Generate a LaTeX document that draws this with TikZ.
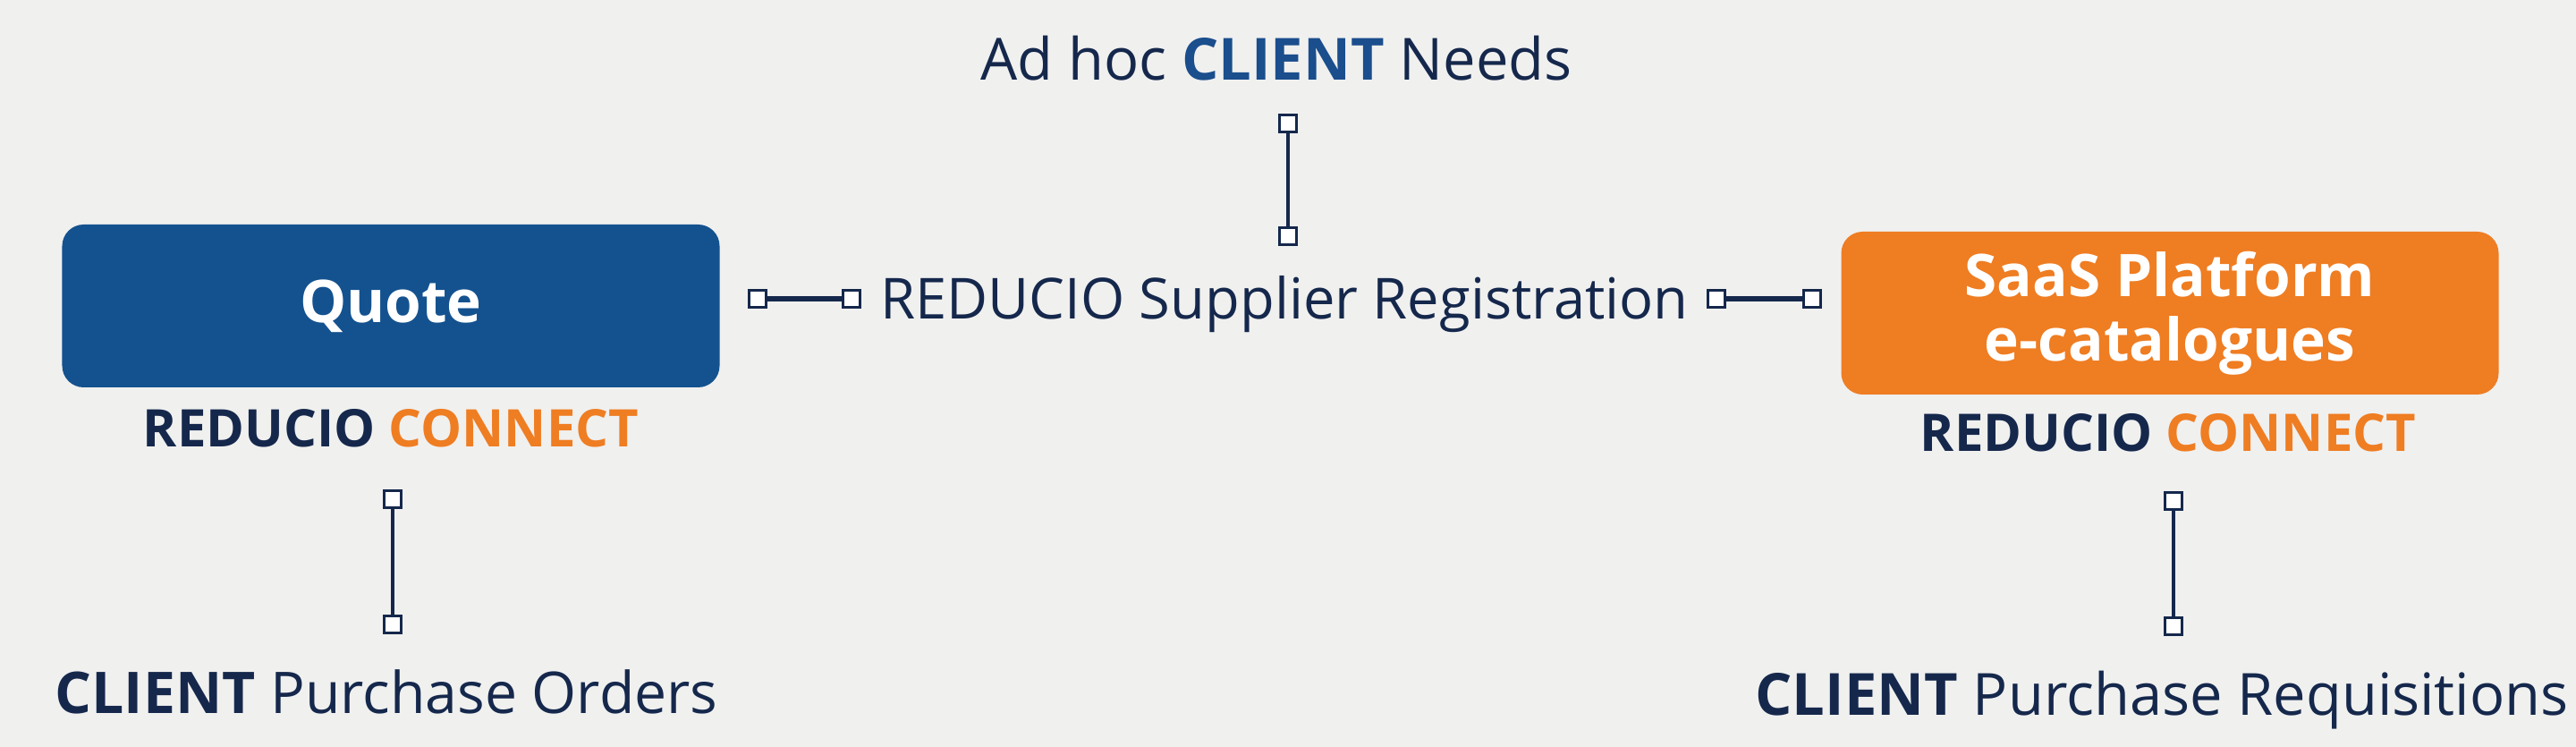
\documentclass[tikz,border=0pt]{standalone}
\usepackage{fontspec}
\setmainfont{Open Sans}
\definecolor{bgGrey}{HTML}{F0F0EF}
\definecolor{navy}{HTML}{15284C}
\definecolor{quoteBlue}{HTML}{14528F}
\definecolor{titleBlue}{HTML}{1A4E8C}
\definecolor{connOrange}{HTML}{EF7D22}
\begin{document}
\begin{tikzpicture}
[boxDecorate/.style={shape=rectangle,rounded corners=0.24cm,minimum width=7.35cm,
   minimum height=1.82cm,text=white,font=\fontsize{18.7}{22}\selectfont\bfseries,align=center},%
  labelDecorate/.style={text=navy,font=\fontsize{18}{22}\selectfont,anchor=base,inner sep=0pt},%
  brandDecorate/.style={font=\fontsize{16.5}{20}\selectfont\bfseries,anchor=base,inner sep=0pt},%
  pinDecorate/.style={shape=rectangle,draw=navy,fill=white,line width=0.6pt,
   minimum size=0.19cm,inner sep=0pt},%
  lineDecorate/.style={-,draw=navy,line width=1pt}]
\fill[bgGrey] (0,0) rectangle (28.8,8.35);
\useasboundingbox (0,0) rectangle (28.8,8.35);
%% boxes
\node (quote) at (4.37,4.93) [boxDecorate,fill=quoteBlue] {Quote};
\node (saas) at (24.26,4.85) [boxDecorate,fill=connOrange]
  {SaaS Platform\\[-0.05cm]e-catalogues};
%% texts
\node (needs) at (14.27,7.45) [labelDecorate,font=\fontsize{18.5}{22}\selectfont]
  {Ad hoc \textbf{\color{titleBlue}CLIENT} Needs};
\node (reg) at (14.36,4.78) [labelDecorate] {REDUCIO Supplier Registration};
\node (brandL) at (4.37,3.35) [brandDecorate] {\color{navy}REDUCIO \color{connOrange}CONNECT};
\node (brandR) at (24.24,3.30) [brandDecorate] {\color{navy}REDUCIO \color{connOrange}CONNECT};
\node (orders) at (4.32,0.37) [labelDecorate,font=\fontsize{18.3}{22}\selectfont]
  {\textbf{CLIENT} Purchase Orders};
\node (reqs) at (24.17,0.35) [labelDecorate,font=\fontsize{18.5}{22}\selectfont]
  {\textbf{CLIENT} Purchase Requisitions};
%% pins
\foreach \nodename/\x/\y in {
  t1/14.40/6.97, t2/14.40/5.71, h1/8.47/5.01, h2/9.52/5.01,
  h3/19.19/5.01, h4/20.26/5.01, l1/4.39/2.77, l2/4.39/1.37,
  r1/24.30/2.75, r2/24.30/1.35}
{
  \node (\nodename) at (\x,\y) [pinDecorate] {};
}
%% lines
\path
\foreach \startnode/\endnode/\wd in {
  t1/t2/1pt, h1/h2/1.7pt, h3/h4/1.7pt, l1/l2/1pt, r1/r2/1pt}
{
  (\startnode) edge[lineDecorate,line width=\wd] (\endnode)
};
\end{tikzpicture}
\end{document}
